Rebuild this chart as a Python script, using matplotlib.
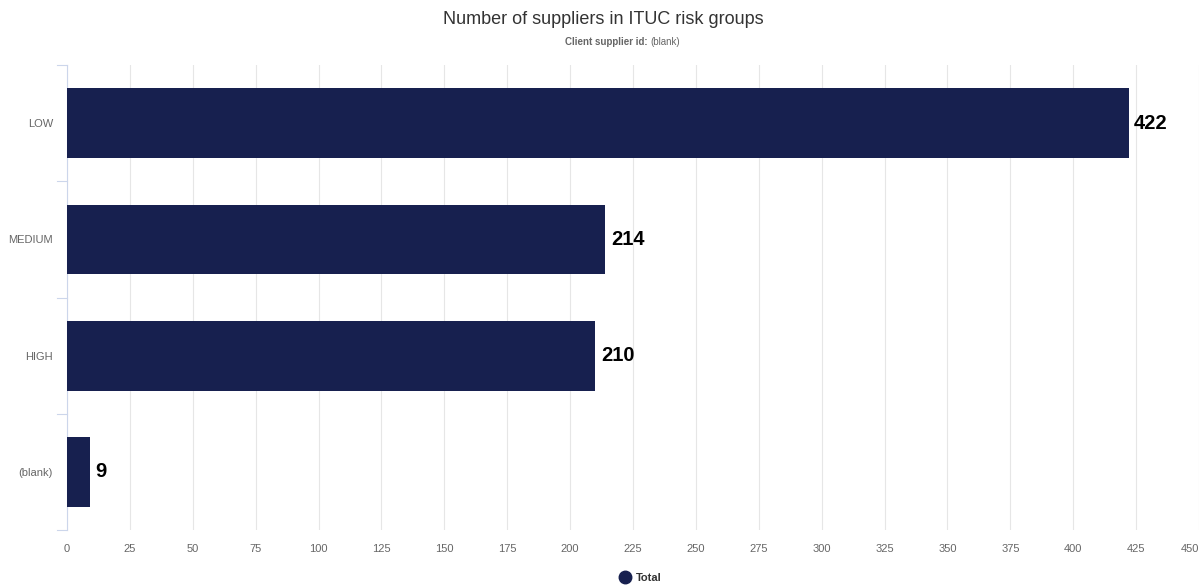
import matplotlib
matplotlib.use("Agg")
import matplotlib.pyplot as plt
from matplotlib.lines import Line2D

categories = ["LOW", "MEDIUM", "HIGH", "(blank)"]
values = [422, 214, 210, 9]
xticks = list(range(0, 451, 25))
title = "Number of suppliers in ITUC risk groups"
series_name = "Total"
bar_color = "#17204f"

plt.rcParams['font.family'] = ['Liberation Sans', 'DejaVu Sans']

fig = plt.figure(figsize=(12, 5.86), dpi=100)
ax = fig.add_axes([67/1200, 1-530/586, (1199-67)/1200, (530-65)/586])

n = len(categories)
ypos = list(range(n))
ax.barh(ypos, values, height=0.6, color=bar_color, zorder=3)
ax.set_ylim(n - 0.5, -0.5)
ax.set_xlim(0, 450)
ax.set_xticks(xticks)
ax.set_xticklabels([str(t) for t in xticks], color="#666666", fontsize=8)
ax.get_xticklabels()[-1].set_horizontalalignment('right')
ax.set_yticks(ypos)
ax.set_yticklabels(categories, color="#666666", fontsize=8)
ax.tick_params(axis='x', length=0, pad=10)
ax.tick_params(axis='y', length=0, pad=10)

# band boundary ticks on left
for b in [i - 0.5 for i in range(n + 1)]:
    ax.plot([-4, 0], [b, b], color="#ccd6eb", lw=0.8, clip_on=False)

ax.grid(axis='x', color="#e6e6e6", lw=0.8, zorder=0)
for s in ['top', 'right', 'bottom']:
    ax.spines[s].set_visible(False)
ax.spines['left'].set_color("#ccd6eb")
ax.spines['left'].set_linewidth(0.8)

for y, v in zip(ypos, values):
    ax.text(v + 2.2, y, str(v), va='center', ha='left', fontsize=14.5, fontweight='bold', color='black', zorder=4)

fig.text(603/1200, 1-20/586, title, ha='center', va='center', fontsize=13, color="#333333")
fig.text(650/1200, 1-42/586, "Client supplier id: ", ha='right', va='center', fontsize=7, fontweight='bold', color="#666666")
fig.text(650/1200, 1-42/586, "(blank)", ha='left', va='center', fontsize=7, color="#666666")

handle = Line2D([0], [0], marker='o', color='none', markerfacecolor=bar_color, markeredgecolor=bar_color, markersize=9)
leg = fig.legend([handle], [series_name], loc='center', bbox_to_anchor=(640/1200, 1-578/586), frameon=False,
                 prop={'weight': 'bold', 'size': 8}, handletextpad=0.4, handlelength=1.2)
for t in leg.get_texts():
    t.set_color("#333333")

fig.savefig("out.png", dpi=100)
